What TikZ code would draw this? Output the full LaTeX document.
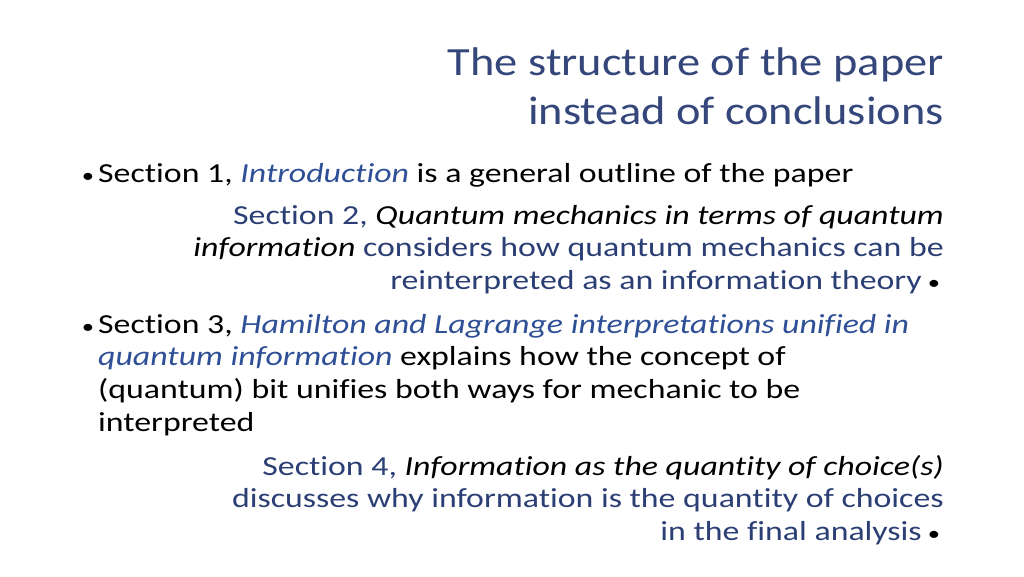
\documentclass[tikz,border=0pt]{standalone}
\usepackage{fontspec}
\setmainfont{Carlito}[FakeStretch=1.23,Ligatures=CommonOff]
\newfontfamily\titlefont{Carlito}[FakeStretch=1.16,Ligatures=CommonOff]
\definecolor{titlec}{HTML}{34467A}
\definecolor{rightc}{HTML}{2B3F75}
\definecolor{itc}{HTML}{2F4F96}
\begin{document}
\begin{tikzpicture}[x=1pt,y=-1pt,
  body/.style={inner sep=0pt,font=\fontsize{27.5}{33}\selectfont},
  lt/.style={body,anchor=base west},
  rt/.style={body,anchor=base east,text=rightc},
  bul/.style={inner sep=0pt,anchor=base,font=\fontsize{20}{24}\selectfont},
  tt/.style={inner sep=0pt,anchor=base east,text=titlec,font=\titlefont\fontsize{40}{48}\selectfont}]
\useasboundingbox (0,0) rectangle (1024,576);
\node[tt] (t1) at (944,75) {The structure of the paper};
\node[tt] (t2) at (944,124) {instead of conclusions};
\node[bul] (b1) at (88,182) {•};
\node[lt] (l1) at (98,182) {Section 1, \textcolor{itc}{\itshape Introduction} is a general outline of the paper};
\node[rt] (l2) at (944,224) {Section 2, \textcolor{black}{\itshape Quantum mechanics in terms of quantum}};
\node[rt] (l3) at (944,256) {\textcolor{black}{\itshape information} considers how quantum mechanics can be};
\node[rt] (l4) at (922,289) {reinterpreted as an information theory};
\node[bul] (b3) at (934,289) {•};
\node[bul] (b2) at (88,333) {•};
\node[lt] (l5) at (98,333) {Section 3, \textcolor{itc}{\itshape Hamilton and Lagrange interpretations unified in}};
\node[lt] (l6) at (98,365) {\textcolor{itc}{\itshape quantum information} explains how the concept of};
\node[lt] (l7) at (98,398) {(quantum) bit unifies both ways for mechanic to be};
\node[lt] (l8) at (98,431) {interpreted};
\node[rt] (l9) at (944,475) {Section 4, \textcolor{black}{\itshape Information as the quantity of choice(s)}};
\node[rt] (l10) at (944,507) {discusses why information is the quantity of choices};
\node[rt] (l11) at (922,540) {in the final analysis};
\node[bul] (b4) at (934,540) {•};
\end{tikzpicture}
\end{document}
